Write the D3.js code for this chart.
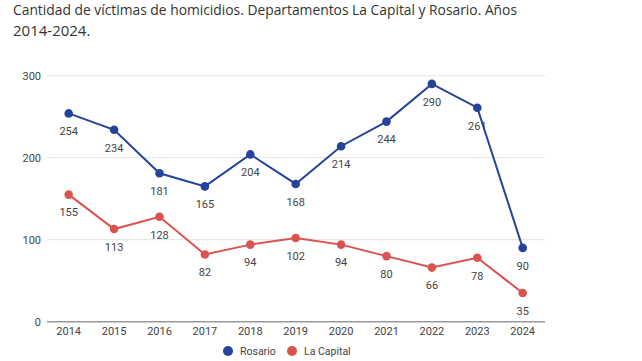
<!DOCTYPE html>
<html>
<head>
<meta charset="utf-8">
<script src="https://cdn.jsdelivr.net/npm/d3@7"></script>
<style>
  body { margin: 0; background: #fff; }
  .title { font-family: "Open Sans", sans-serif; font-size: 15px; fill: #333; }
</style>
</head>
<body>
<div id="chart"></div>
<script>
const years = [2014, 2015, 2016, 2017, 2018, 2019, 2020, 2021, 2022, 2023, 2024];
const rosario = [254, 234, 181, 165, 204, 168, 214, 244, 290, 261, 90];
const laCapital = [155, 113, 128, 82, 94, 102, 94, 80, 66, 78, 35];
const yTicks = [0, 100, 200, 300];

const width = 642;
const height = 361;
const blue = '#23449a';
const red = '#dc524e';

const svg = d3.select('#chart')
    .append('svg')
    .attr('width', width)
    .attr('height', height);

svg.append('text').attr('class', 'title')
    .attr('x', 13).attr('y', 15)
    .attr('textLength', 504).attr('lengthAdjust', 'spacingAndGlyphs')
    .text('Cantidad de víctimas de homicidios. Departamentos La Capital y Rosario. Años');
svg.append('text').attr('class', 'title')
    .attr('x', 13).attr('y', 36)
    .text('2014-2024.');

const x = d3.scalePoint()
    .domain(years)
    .range([68.7, 522.7]);

const y = d3.scaleLinear()
    .domain([0, 300])
    .range([321.7, 75.7]);

// grid
svg.append('g')
    .selectAll('line')
    .data(yTicks)
    .join('line')
      .attr('x1', 47).attr('x2', 545)
      .attr('y1', d => y(d)).attr('y2', d => y(d))
      .attr('stroke', d => d === 0 ? '#999' : '#e2e2e2')
      .attr('stroke-width', d => d === 0 ? 1.5 : 1);

const font = 'Roboto, "Liberation Sans", Arial, sans-serif';

svg.append('g')
    .selectAll('text')
    .data(yTicks)
    .join('text')
      .attr('x', 41).attr('y', d => y(d))
      .attr('dy', '0.35em')
      .attr('text-anchor', 'end')
      .attr('font-family', font).attr('font-size', 11).attr('fill', '#444')
      .text(d => d);

svg.append('g')
    .selectAll('text')
    .data(years)
    .join('text')
      .attr('x', d => x(d)).attr('y', 331)
      .attr('dy', '0.35em')
      .attr('text-anchor', 'middle')
      .attr('font-family', font).attr('font-size', 11).attr('fill', '#444')
      .text(d => d);

const series = [
  { name: 'Rosario', values: rosario, color: blue },
  { name: 'La Capital', values: laCapital, color: red }
];

const line = d3.line()
    .x((d, i) => x(years[i]))
    .y(d => y(d));

series.forEach(s => {
  svg.append('path')
      .datum(s.values)
      .attr('fill', 'none')
      .attr('stroke', s.color)
      .attr('stroke-width', 2)
      .attr('d', line);

  svg.append('g')
      .selectAll('circle')
      .data(s.values)
      .join('circle')
        .attr('cx', (d, i) => x(years[i]))
        .attr('cy', d => y(d))
        .attr('r', 4.3)
        .attr('fill', s.color);

  svg.append('g')
      .selectAll('text')
      .data(s.values)
      .join('text')
        .attr('x', (d, i) => x(years[i]))
        .attr('y', d => y(d) + 18)
        .attr('dy', '0.35em')
        .attr('text-anchor', 'middle')
        .attr('font-family', font).attr('font-size', 11).attr('fill', '#444')
        .text(d => d);
});

// legend
const legend = svg.append('g')
    .selectAll('g')
    .data(series)
    .join('g')
      .attr('transform', (d, i) => `translate(${i === 0 ? 228 : 292}, 351)`);

legend.append('circle')
    .attr('r', 5)
    .attr('fill', d => d.color);

legend.append('text')
    .attr('x', 12)
    .attr('dy', '0.35em')
    .attr('font-family', font).attr('font-size', 10.5).attr('fill', '#444')
    .text(d => d.name);
</script>
</body>
</html>
